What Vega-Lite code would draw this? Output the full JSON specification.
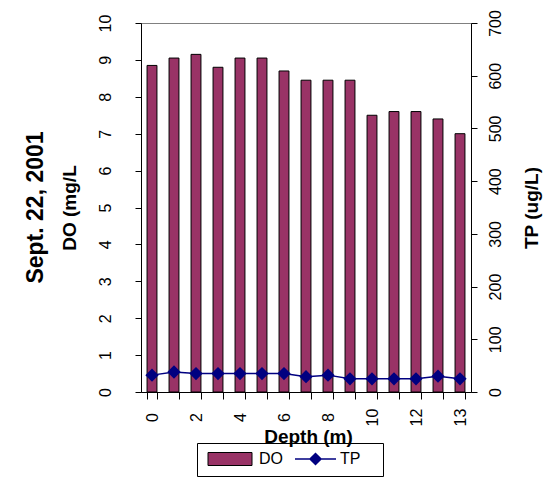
{
  "$schema": "https://vega.github.io/schema/vega-lite/v6.json",
  "width": 330,
  "height": 369,
  "autosize": {"type": "none"},
  "padding": {"left": 141, "top": 23, "right": 78, "bottom": 104},
  "background": "white",
  "config": {
    "font": "Liberation Sans",
    "view": {"stroke": "#808080", "strokeWidth": 1},
    "axis": {
      "grid": false,
      "domainColor": "black",
      "tickColor": "black",
      "labelColor": "black",
      "titleColor": "black",
      "labelFont": "Liberation Sans",
      "titleFont": "Liberation Sans",
      "labelFontSize": 16,
      "titleFontSize": 19,
      "titleFontWeight": "bold",
      "labelFlush": false,
      "labelOverlap": false
    },
    "legend": {
      "labelFont": "Liberation Sans",
      "labelFontSize": 16,
      "labelColor": "black",
      "symbolSize": 100
    }
  },
  "title": {
    "text": "Sept. 22, 2001",
    "orient": "left",
    "anchor": "middle",
    "fontSize": 23,
    "fontWeight": "bold",
    "font": "Liberation Sans",
    "color": "black",
    "offset": 12
  },
  "data": {
    "values": [
      {"Depth": "0", "DO": 8.85, "TP": 32},
      {"Depth": "1", "DO": 9.05, "TP": 38},
      {"Depth": "2", "DO": 9.15, "TP": 35},
      {"Depth": "3", "DO": 8.8, "TP": 35},
      {"Depth": "4", "DO": 9.05, "TP": 35},
      {"Depth": "5", "DO": 9.05, "TP": 35},
      {"Depth": "6", "DO": 8.7, "TP": 35},
      {"Depth": "7", "DO": 8.45, "TP": 29},
      {"Depth": "8", "DO": 8.45, "TP": 32},
      {"Depth": "9", "DO": 8.45, "TP": 25},
      {"Depth": "10", "DO": 7.5, "TP": 25},
      {"Depth": "11", "DO": 7.6, "TP": 25},
      {"Depth": "12", "DO": 7.6, "TP": 25},
      {"Depth": "12.5", "DO": 7.4, "TP": 30},
      {"Depth": "13", "DO": 7.0, "TP": 25}
    ]
  },
  "layer": [
    {
      "mark": {"type": "bar", "stroke": "black", "strokeWidth": 1},
      "encoding": {
        "x": {
          "field": "Depth",
          "type": "ordinal",
          "sort": null,
          "scale": {"paddingInner": 0.55, "paddingOuter": 0.275},
          "axis": {
            "title": "Depth (m)",
            "labelAngle": -90,
            "labelAlign": "center",
            "labelBaseline": "middle",
            "labelExpr": "indexof(['0','2','4','6','8','10','12','13'], datum.label) >= 0 ? datum.label : ''",
            "tickBand": "extent",
            "tickSize": 7,
            "labelPadding": 18,
            "titleX": 167,
            "titleY": 44,
            "titleBaseline": "middle",
            "titleAlign": "center"
          }
        },
        "y": {
          "field": "DO",
          "type": "quantitative",
          "scale": {"domain": [0, 10], "nice": false},
          "axis": {
            "orient": "left",
            "values": [0, 1, 2, 3, 4, 5, 6, 7, 8, 9, 10],
            "title": "DO (mg/L",
            "labelAngle": 270,
            "labelAlign": "center",
            "labelBaseline": "bottom",
            "tickSize": 6,
            "labelPadding": 22,
            "titleX": -72,
            "titleY": 184.5,
            "titleAngle": 270,
            "titleAlign": "center",
            "titleBaseline": "middle"
          }
        },
        "color": {
          "datum": "DO",
          "scale": {"domain": ["DO"], "range": ["#993366"]},
          "legend": {
            "orient": "none",
            "legendX": 56,
            "legendY": 420,
            "title": null,
            "strokeColor": "black",
            "padding": 8,
            "labelOffset": 38,
            "symbolType": "M-1,-1.3H7.8V1.3H-1ZM32,0L32,0",
            "symbolStrokeColor": "black",
            "symbolStrokeWidth": 1,
            "symbolOpacity": 1
          }
        }
      }
    },
    {
      "mark": {
        "type": "line",
        "color": "#000080",
        "strokeWidth": 1.5,
        "point": {"shape": "diamond", "size": 110, "filled": true, "color": "#000080", "opacity": 1}
      },
      "encoding": {
        "x": {"field": "Depth", "type": "ordinal", "sort": null},
        "y": {
          "field": "TP",
          "type": "quantitative",
          "scale": {"domain": [0, 700], "nice": false},
          "axis": {
            "orient": "right",
            "values": [0, 100, 200, 300, 400, 500, 600, 700],
            "title": "TP (ug/L)",
            "labelAngle": 270,
            "labelAlign": "center",
            "labelBaseline": "top",
            "tickSize": 6,
            "labelPadding": 10,
            "titleX": 60,
            "titleY": 184.5,
            "titleAngle": 270,
            "titleAlign": "center",
            "titleBaseline": "middle"
          }
        },
        "stroke": {
          "datum": "TP",
          "scale": {"domain": ["TP"], "range": ["#000080"]},
          "legend": {
            "orient": "none",
            "legendX": 143,
            "legendY": 420,
            "title": null,
            "padding": 8,
            "labelOffset": 32,
            "symbolType": "M-1,0H7.2M3.1,-1.1L4.2,0L3.1,1.1L2,0Z",
            "symbolFillColor": "#000080",
            "symbolStrokeColor": "#000080",
            "symbolStrokeWidth": 1.5,
            "symbolOpacity": 1
          }
        }
      }
    }
  ],
  "resolve": {"scale": {"y": "independent"}}
}
